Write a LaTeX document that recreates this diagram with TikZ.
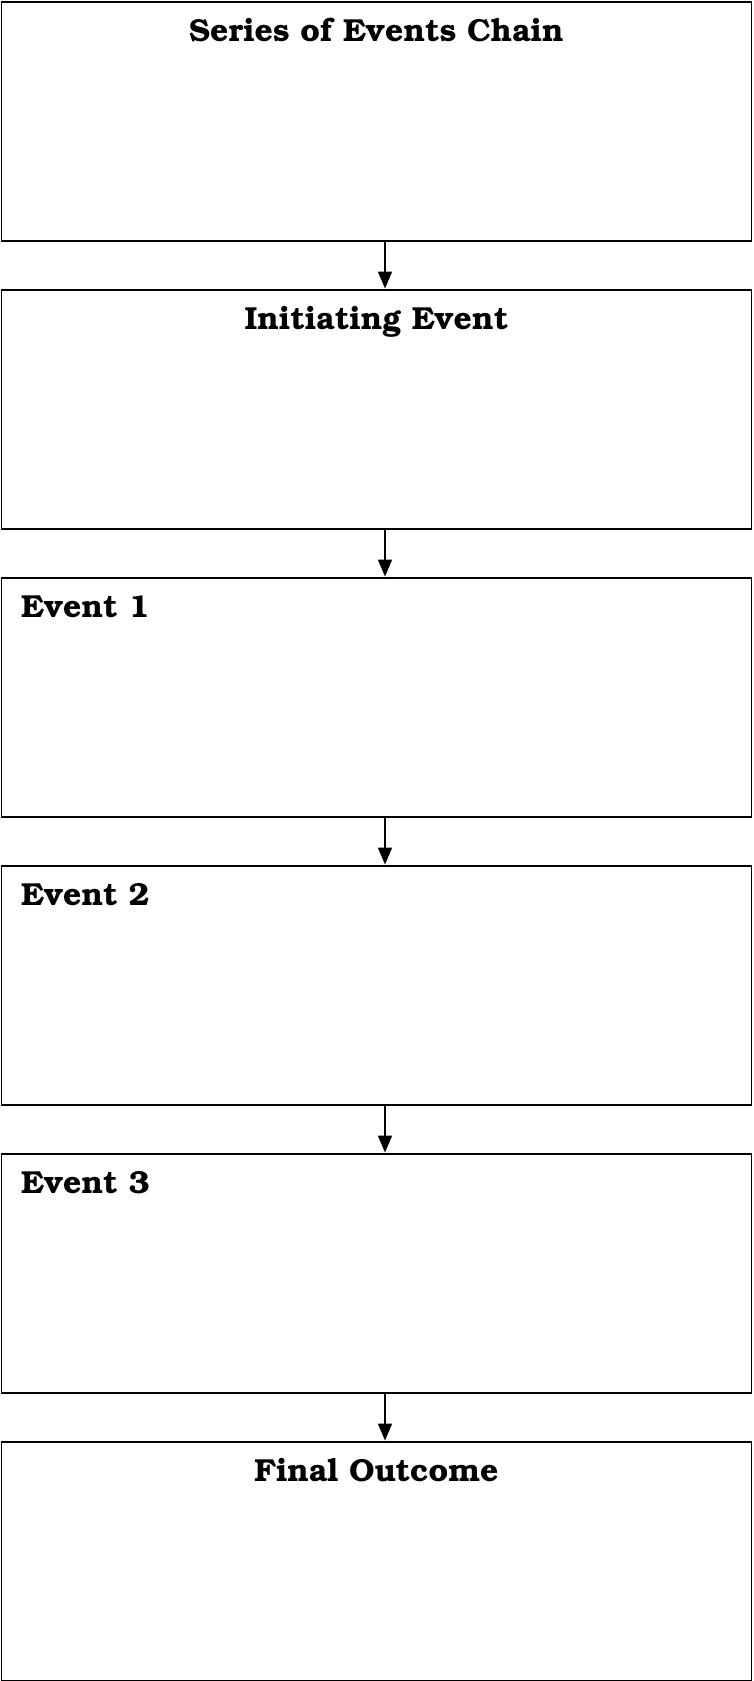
\documentclass[tikz,border=0pt]{standalone}
\usepackage[T1]{fontenc}
\usepackage{bookman}
\usetikzlibrary{arrows.meta,calc}
\tikzset{
  panel/.style={draw=black, line width=1.8pt, minimum width=750pt, minimum height=239pt, inner sep=0pt, anchor=north},
  ctitle/.style={anchor=base, inner sep=0pt, font=\fontsize{31.8}{36}\selectfont\bfseries},
  ltitle/.style={anchor=base west, inner sep=0pt, font=\fontsize{31.8}{36}\selectfont\bfseries},
  flow/.style={line width=1.6pt, -{Triangle[length=17pt,width=14pt]}, shorten >=0.5pt}
}
\begin{document}
\begin{tikzpicture}[x=1pt,y=1pt]
\useasboundingbox (0,0) rectangle (753,-1681);
\node[panel] (b1) at (376.5,-1) {};
\node[panel] (b2) at (376.5,-289) {};
\node[panel] (b3) at (376.5,-577) {};
\node[panel] (b4) at (376.5,-865) {};
\node[panel] (b5) at (376.5,-1153) {};
\node[panel] (b6) at (376.5,-1441) {};
\node[ctitle] (t1) at (376.5,-41) {Series of Events Chain};
\node[ctitle] (t2) at (376.5,-329) {Initiating Event};
\node[ltitle] (t3) at (21,-617) {Event 1};
\node[ltitle] (t4) at (21,-905) {Event 2};
\node[ltitle] (t5) at (21,-1193) {Event 3};
\node[ctitle] (t6) at (376.5,-1481) {Final Outcome};
\coordinate (ax) at (385,0);
\draw[flow] (b1.south -| ax) -- (b2.north -| ax);
\draw[flow] (b2.south -| ax) -- (b3.north -| ax);
\draw[flow] (b3.south -| ax) -- (b4.north -| ax);
\draw[flow] (b4.south -| ax) -- (b5.north -| ax);
\draw[flow] (b5.south -| ax) -- (b6.north -| ax);
\end{tikzpicture}
\end{document}
